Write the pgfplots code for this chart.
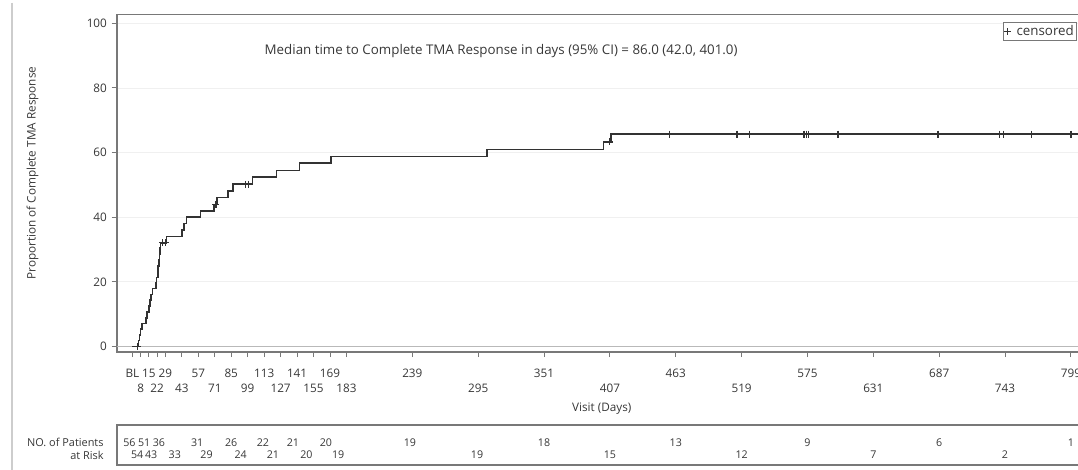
\documentclass[border=0pt]{standalone}
\usepackage{fontspec}
\setmainfont{Open Sans}
\usepackage{pgfplots}
\pgfplotsset{compat=1.18}
\definecolor{frame}{RGB}{120,120,120}
\definecolor{curve}{RGB}{50,50,50}
\definecolor{txt}{RGB}{55,55,55}
\definecolor{faint}{RGB}{240,240,240}
\definecolor{zeroline}{RGB}{185,185,185}
\definecolor{edge}{RGB}{205,205,205}

\begin{document}
\begin{tikzpicture}
\draw[edge, line width=0.8pt] (9pt,-2pt) -- (9pt,-352.5pt);
\begin{axis}[at={(87.5pt,-10.95pt)}, anchor=north west, scale only axis,
    width=726.25pt, height=253.05pt,
    xmin=-12.4, xmax=811, ymin=-1.7, ymax=102.7,
    axis line style={frame, line width=1.3pt},
    ytick={0,20,40,60,80,100}, ymajorgrids, grid style={faint, line width=0.6pt},
    xtick={1,15,29,57,85,113,141,169,239,351,463,575,687,799},
    xticklabels={BL,15,29,57,85,113,141,169,239,351,463,575,687,799},
    extra x ticks={8,22,43,71,99,127,155,183,295,407,519,631,743},
    extra x tick labels={8,22,43,71,99,127,155,183,295,407,519,631,743},
    extra x tick style={grid=none, tick label style={yshift=-11.25pt}},
    tick align=outside, tick pos=left, major tick length=3.8pt,
    tick style={frame, line width=0.7pt},
    ticklabel style={font=\fontsize{8.8}{10}\selectfont, text=txt},
    /pgf/number format/assume math mode=true,
    xticklabel style={yshift=-5.5pt},
    xlabel={Visit (Days)},
    every axis x label/.style={at={(axis description cs:0.501,-0.169)}, anchor=center,
      font=\fontsize{8.8}{10}\selectfont, text=txt},
    ylabel={Proportion of Complete TMA Response},
    every axis y label/.style={at={(axis description cs:-0.0868,0.53)}, rotate=90, anchor=center,
      font=\fontsize{8.8}{10}\selectfont, text=txt},
    legend style={at={(0.9156,0.978)}, anchor=north west, draw=frame, fill=white,
      line width=0.8pt, font=\fontsize{10}{10}\selectfont, text=txt, inner sep=0.3pt,
      row sep=0pt, /tikz/every odd column/.append style={column sep=2.5pt}},
    legend image code/.code={\draw[mark=+, mark size=2.4pt, line width=0.7pt, curve]
      plot coordinates {(0.14cm,0)};},
    legend cell align=left,
    clip=false]
  \addplot[zeroline, line width=0.8pt, forget plot] coordinates {(-12.4,0) (811,0)};
  % cumulative proportion with complete TMA response (step function)
  \addplot[const plot, curve, line width=1.2pt, forget plot] coordinates {
    (1,0) (6,1.8) (7,3.6) (8,5.4) (9,7.1) (12.5,8.9) (13.5,10.7) (15,12.5) (16,14.3)
    (17,16.1) (18,17.9) (21,19.6) (21.5,21.4) (22.5,23.2) (23,25.0) (23.5,26.8)
    (24,28.6) (24.5,30.4) (25,32.1) (30,34.0) (43,36.0) (45,38.0) (47,40.0)
    (59,41.9) (70.5,44.0) (73,46.1) (82.5,48.2) (86.5,50.2) (103,52.4)
    (123.5,54.5) (143,56.7) (170,58.8) (302.5,61.0) (401.5,63.3) (408,65.7)
    (811,65.7)};
  % censored
  \addplot[only marks, mark=+, mark size=2.6pt, curve, line width=0.9pt] coordinates {
    (5,0) (26.5,32.1) (29,32.1) (72,44.0) (97,50.2) (99.5,50.2) (407,63.3)
    (458,65.7) (515,65.7) (525.5,65.7) (572,65.7) (574,65.7) (576,65.7)
    (601,65.7) (686,65.7) (738.5,65.7) (742,65.7) (765.5,65.7) (799,65.7)};
  \addlegendentry{censored}
  \node[font=\fontsize{10}{11}\selectfont, text=txt] at (rel axis cs:0.3970,0.892)
    {Median time to Complete TMA Response in days (95\% CI) = 86.0 (42.0, 401.0)};
\end{axis}
\begin{axis}[at={(87.5pt,-318.75pt)}, anchor=north west, scale only axis,
    width=726.25pt, height=30pt,
    xmin=-12.4, xmax=811, ymin=0, ymax=1,
    axis line style={frame, line width=1.3pt},
    xtick=\empty, ytick=\empty, clip=false]
  \addplot[draw=none, mark=none, nodes near coords, point meta=explicit symbolic,
    every node near coord/.append style={anchor=center, font=\fontsize{8}{9}\selectfont, text=txt}]
    coordinates {
    (-1.5,0.56) [56] (11,0.56) [51] (23.5,0.56) [36] (56,0.56) [31] (85,0.56) [26]
    (112,0.56) [22] (137.5,0.56) [21] (165.5,0.56) [20] (237,0.56) [19]
    (351,0.56) [18] (463,0.56) [13] (575,0.56) [9] (687,0.56) [6] (799,0.56) [1]
    (5,0.25) [54] (17,0.25) [43] (37,0.25) [33] (64,0.25) [29] (93,0.25) [24]
    (120.5,0.25) [21] (149,0.25) [20] (176,0.25) [19] (294,0.25) [19]
    (407,0.25) [15] (519,0.25) [12] (631,0.25) [7] (743,0.25) [2]};
  \node[anchor=east, xshift=-6.3pt, font=\fontsize{8.2}{9}\selectfont, text=txt]
    at (rel axis cs:0,0.56) {NO. of Patients};
  \node[anchor=east, xshift=-6.3pt, font=\fontsize{8.2}{9}\selectfont, text=txt]
    at (rel axis cs:0,0.25) {at Risk};
\end{axis}
\pgfresetboundingbox
\path[use as bounding box] (0,0) rectangle (808.5pt,-352.5pt);
\end{tikzpicture}
\end{document}
